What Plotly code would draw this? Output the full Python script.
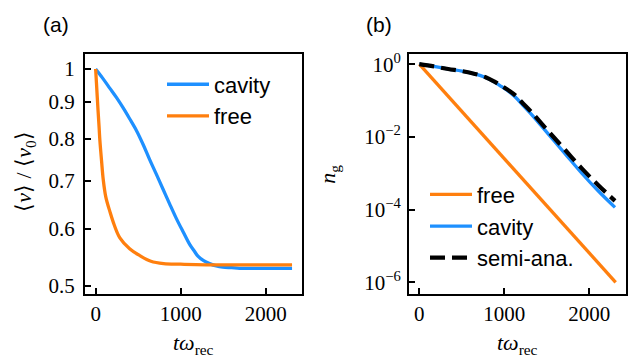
import plotly.graph_objects as go

# ---------------- data ----------------
# panel (a): <v>/<v0> vs t*omega_rec
t_cav_a = [0, 80, 168, 250, 324, 400, 481, 560, 637, 715, 793, 870, 950, 1030, 1106, 1160, 1203, 1270, 1340, 1420, 1496, 1600, 1692, 1900, 2100, 2310]
v_cav_a = [1.0, 0.972, 0.940, 0.911, 0.883, 0.853, 0.821, 0.785, 0.748, 0.714, 0.681, 0.650, 0.620, 0.594, 0.571, 0.559, 0.550, 0.542, 0.537, 0.533, 0.531, 0.530, 0.529, 0.529, 0.529, 0.529]

t_free_a = [0, 10, 25, 40, 50, 70, 89, 120, 168, 220, 285, 400, 519, 650, 800, 1000, 1300, 2310]
v_free_a = [1.0, 0.955, 0.890, 0.833, 0.796, 0.745, 0.703, 0.664, 0.634, 0.607, 0.583, 0.563, 0.551, 0.541, 0.537, 0.536, 0.535, 0.535]

# panel (b): n_g vs t*omega_rec
t_free_b = [0, 500, 1000, 1500, 2000, 2310]
n_free_b = [1.0, 0.0501, 0.00251, 1.26e-4, 6.4e-6, 1.0e-6]

t_cav_b = [0, 170, 340, 500, 655, 780, 890, 970, 1047, 1126, 1220, 1322, 1518, 1714, 1911, 2106, 2302]
n_cav_b = [1.0, 0.871, 0.735, 0.646, 0.538, 0.427, 0.316, 0.240, 0.182, 0.127, 0.0741, 0.0410, 0.0119, 0.00347, 0.00100, 3.24e-4, 1.15e-4]
n_semi_b = [1.0, 0.871, 0.735, 0.646, 0.538, 0.437, 0.324, 0.251, 0.193, 0.141, 0.0832, 0.0473, 0.0143, 0.00442, 0.00136, 4.68e-4, 1.74e-4]

x_ticks = [0, 1000, 2000]
x_ticktext = ["0", "1000", "2000"]
ya_ticks = [0.5, 0.6, 0.7, 0.8, 0.9, 1.0]
ya_ticktext = ["0.5", "0.6", "0.7", "0.8", "0.9", "1"]
yb_ticks = [1, 1e-2, 1e-4, 1e-6]
yb_ticktext = ["10<sup>0</sup>", "10<sup>\u22122</sup>", "10<sup>\u22124</sup>", "10<sup>\u22126</sup>"]

# ---------------- styling ----------------
BLUE = "#1E90FF"
ORANGE = "#FF7F0E"
SERIF = "Liberation Serif"
SANS = "Liberation Sans"
W, H = 629, 360

fig = go.Figure()

fig.add_trace(go.Scatter(x=t_cav_a, y=v_cav_a, mode="lines", name="cavity",
                         line=dict(color=BLUE, width=3.3, shape="spline", smoothing=1.0),
                         xaxis="x", yaxis="y", legend="legend"))
fig.add_trace(go.Scatter(x=t_free_a, y=v_free_a, mode="lines", name="free",
                         line=dict(color=ORANGE, width=3.3, shape="spline", smoothing=1.0),
                         xaxis="x", yaxis="y", legend="legend"))

fig.add_trace(go.Scatter(x=t_free_b, y=n_free_b, mode="lines", name="free",
                         line=dict(color=ORANGE, width=3.3),
                         xaxis="x2", yaxis="y2", legend="legend2"))
fig.add_trace(go.Scatter(x=t_cav_b, y=n_cav_b, mode="lines", name="cavity",
                         line=dict(color=BLUE, width=3.3, shape="spline", smoothing=1.0),
                         xaxis="x2", yaxis="y2", legend="legend2"))
fig.add_trace(go.Scatter(x=t_cav_b, y=n_semi_b, mode="lines", name="semi-ana.",
                         line=dict(color="black", width=4.2, dash="15px,7px", shape="spline", smoothing=1.0),
                         xaxis="x2", yaxis="y2", legend="legend2"))

axis_common = dict(showline=True, mirror=True, linecolor="black", linewidth=2,
                   ticks="inside", ticklen=6, tickwidth=2, tickcolor="black",
                   showgrid=False, zeroline=False,
                   tickfont=dict(family=SERIF, size=21, color="black"))

ydom = [1 - 297 / H, 1 - 51 / H]
fig.update_layout(
    width=W, height=H,
    margin=dict(l=0, r=0, t=0, b=0),
    paper_bgcolor="white", plot_bgcolor="white",
    xaxis=dict(domain=[85 / W, 302 / W], range=[-125, 2427], tickvals=x_ticks, ticktext=x_ticktext,
               anchor="y", **axis_common),
    yaxis=dict(domain=ydom, type="log", range=[-0.3116, 0.0212], tickvals=ya_ticks, ticktext=ya_ticktext,
               anchor="x", ticklabelstandoff=4, **axis_common),
    xaxis2=dict(domain=[409 / W, 625.7 / W], range=[-121, 2428], tickvals=x_ticks, ticktext=x_ticktext,
                anchor="y2", **axis_common),
    yaxis2=dict(domain=ydom, type="log", range=[-6.31, 0.287], tickvals=yb_ticks, ticktext=yb_ticktext,
                anchor="x2", ticklabelstandoff=2, **axis_common),
    legend=dict(x=162 / W, y=1 - 61 / H, xanchor="left", yanchor="top",
                bgcolor="rgba(0,0,0,0)", borderwidth=0, itemwidth=42,
                font=dict(family=SANS, size=22, color="black")),
    legend2=dict(x=425 / W, y=1 - 174 / H, xanchor="left", yanchor="top",
                 bgcolor="rgba(0,0,0,0)", borderwidth=0, itemwidth=42,
                 font=dict(family=SANS, size=22, color="black")),
    showlegend=True,
)

ann = []
ann.append(dict(text="(a)", x=55.5 / W, y=1 - 21 / H, xref="paper", yref="paper", showarrow=False,
                xanchor="center", yanchor="middle", font=dict(family=SANS, size=21, color="black")))
ann.append(dict(text="(b)", x=379 / W, y=1 - 21 / H, xref="paper", yref="paper", showarrow=False,
                xanchor="center", yanchor="middle", font=dict(family=SANS, size=21, color="black")))
for cx in (193.5 / W, 517.4 / W):
    ann.append(dict(text="<i>t\u03c9</i><sub>rec</sub>", x=cx, y=1 - 349 / H, xref="paper", yref="paper",
                    showarrow=False, xanchor="center", yanchor="middle",
                    font=dict(family=SERIF, size=22, color="black")))
ann.append(dict(text="\u27e8<i>v</i>\u27e9 / \u27e8<i>v</i><sub>0</sub>\u27e9", x=25 / W, y=1 - 172 / H,
                xref="paper", yref="paper", showarrow=False, textangle=-90,
                xanchor="center", yanchor="middle", font=dict(family=SERIF, size=22, color="black")))
ann.append(dict(text="<i>n</i><sub>g</sub>", x=329 / W, y=1 - 175 / H,
                xref="paper", yref="paper", showarrow=False, textangle=-90,
                xanchor="center", yanchor="middle", font=dict(family=SERIF, size=22, color="black")))
fig.update_layout(annotations=ann)

fig.write_html("out.html", config={"displayModeBar": False},
               post_script="document.body.style.margin='0';document.body.style.overflow='hidden';")
